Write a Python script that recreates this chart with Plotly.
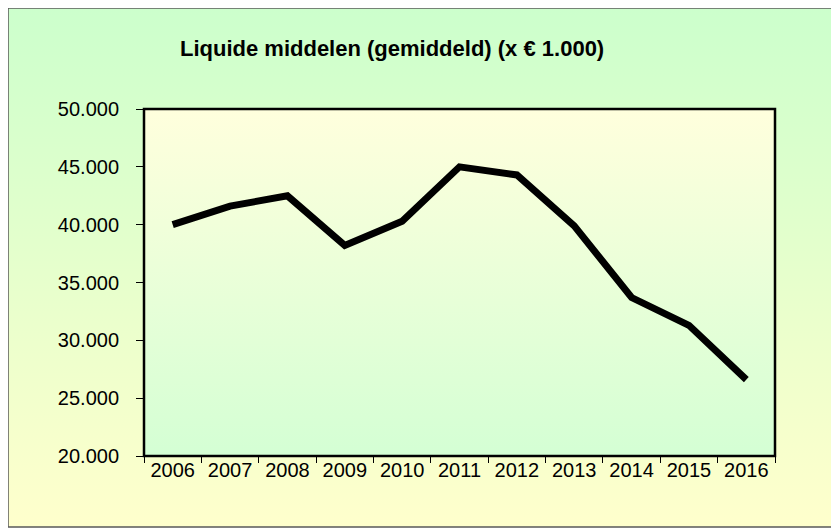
"""Liquide middelen (gemiddeld) per jaar, x € 1.000 – lijngrafiek in Excel-stijl."""

import base64

import plotly.graph_objects as go

jaren = ["2006", "2007", "2008", "2009", "2010", "2011",
         "2012", "2013", "2014", "2015", "2016"]
liquide_middelen = [40000, 41600, 42500, 38200, 40300, 45000,
                    44300, 39900, 33700, 31300, 26600]
y_ticks = [20000, 25000, 30000, 35000, 40000, 45000, 50000]

FONT = "Liberation Sans, Arial, sans-serif"

# de pagina heeft 8px body-marge: alle pixelmaten hieronder zijn die van de
# referentie min 8
OFF = 8
W, H = 839 - OFF, 530 - OFF
L, R, T, B = 144 - OFF, 775 - OFF, 109 - OFF, 456 - OFF


def gradient(top, bottom):
    svg = (
        '<svg xmlns="http://www.w3.org/2000/svg" width="100" height="100" '
        'preserveAspectRatio="none"><defs><linearGradient id="g" x1="0" y1="0" '
        f'x2="0" y2="1"><stop offset="0" stop-color="{top}"/>'
        f'<stop offset="1" stop-color="{bottom}"/></linearGradient></defs>'
        '<rect width="100" height="100" fill="url(#g)"/></svg>'
    )
    return "data:image/svg+xml;base64," + base64.b64encode(svg.encode()).decode()


def px_x(p):
    return (p - OFF - L) / (R - L)


def px_y(p):
    return (B - (p - OFF)) / (B - T)


fig = go.Figure()
fig.add_trace(go.Scatter(
    x=jaren, y=liquide_middelen, mode="lines",
    line=dict(color="black", width=7), hoverinfo="x+y",
))

# buitenrand van de grafiek (referentie: x 3..836, y 6..527)
ox0, ox1, oy0, oy1 = 8, 836, 8, 527
fig.add_layout_image(
    source=gradient("#ccffcc", "#ffffcc"), xref="paper", yref="paper",
    x=px_x(ox0), y=px_y(oy0), sizex=px_x(ox1) - px_x(ox0),
    sizey=px_y(oy0) - px_y(oy1), xanchor="left", yanchor="top",
    sizing="stretch", layer="below",
)
fig.add_layout_image(
    source=gradient("#ffffdd", "#d4ffd4"), xref="paper", yref="paper",
    x=0, y=1, sizex=1, sizey=1, xanchor="left", yanchor="top",
    sizing="stretch", layer="below",
)
fig.add_shape(type="rect", xref="paper", yref="paper",
              x0=px_x(ox0), x1=px_x(ox1), y0=px_y(oy1), y1=px_y(oy0),
              line=dict(color="#5a5a5a", width=1.5), layer="below")
fig.add_shape(type="rect", xref="paper", yref="paper", x0=0, x1=1, y0=0, y1=1,
              line=dict(color="black", width=2.5), layer="above")

fig.add_annotation(
    text="<b>Liquide middelen (gemiddeld) (x € 1.000)</b>",
    xref="paper", yref="paper", x=px_x(392), y=px_y(48),
    xanchor="center", yanchor="middle", showarrow=False,
    font=dict(family=FONT, size=22, color="black"),
)

fig.update_xaxes(
    type="category", range=[-0.5, len(jaren) - 0.5],
    tickson="boundaries", ticks="outside", ticklen=6,
    tickcolor="black", tickwidth=1, showgrid=False, showline=False,
    tickfont=dict(family=FONT, size=20, color="black"),
)
fig.update_yaxes(
    range=[20000, 50000], tickvals=y_ticks, tickformat=",d",
    ticks="outside", ticklen=7, tickcolor="black", tickwidth=1,
    showgrid=False, showline=False, zeroline=False,
    ticklabelstandoff=13,
    tickfont=dict(family=FONT, size=20, color="black"),
)
fig.update_layout(
    width=W, height=H, separators=",.",
    margin=dict(l=L, r=W - R, t=T, b=H - B),
    paper_bgcolor="white", plot_bgcolor="rgba(0,0,0,0)",
    showlegend=False,
)

fig.write_html("out.html")
